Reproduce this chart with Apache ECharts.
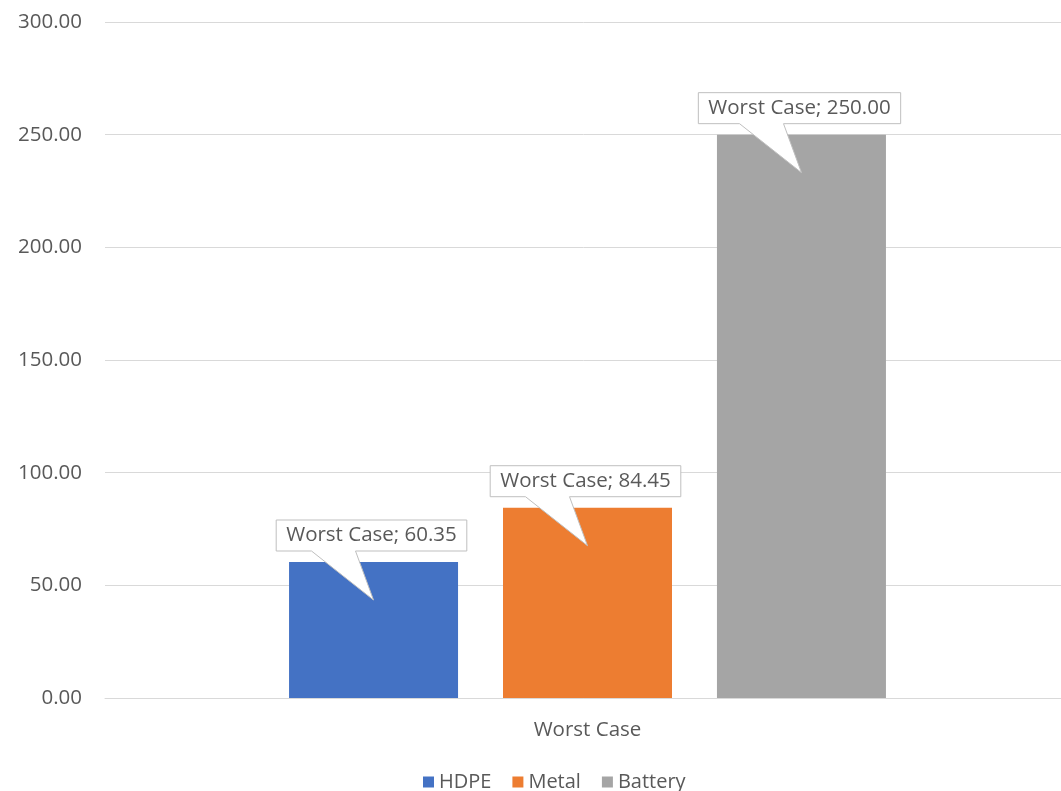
<!DOCTYPE html>
<html>
<head>
<meta charset="utf-8">
<script src="https://cdn.jsdelivr.net/npm/echarts@6/dist/echarts.min.js"></script>
<style>
  html, body { margin: 0; padding: 0; background: #ffffff; }
  #chart { width: 1061px; height: 791px; }
</style>
</head>
<body>
<div id="chart"></div>
<script>
// Chart data
const categories = ['Worst Case'];
const seriesNames = ['HDPE', 'Metal', 'Battery'];
const hdpeValues = [60.35];
const metalValues = [84.45];
const batteryValues = [250.00];
const seriesColors = ['#4472C4', '#ED7D31', '#A5A5A5'];

const FONT = '"Open Sans", "Noto Sans", sans-serif';
const FONT_SIZE = 20.5;
const TEXT_COLOR = '#595959';
const BAR_WIDTH = 169;
const BAR_GAP_PX = 45;
const valuesBySeries = [hdpeValues, metalValues, batteryValues];

const measureCtx = document.createElement('canvas').getContext('2d');
function textWidth(str, font) {
  measureCtx.font = font;
  return measureCtx.measureText(str).width;
}

const barSeries = seriesNames.map((name, i) => ({
  name: name,
  type: 'bar',
  data: valuesBySeries[i],
  barWidth: BAR_WIDTH,
  barGap: (BAR_GAP_PX / BAR_WIDTH * 100).toFixed(1) + '%',
  itemStyle: { color: seriesColors[i] },
  z: 2
}));

// Callout labels: white box with a pointer that reaches down into each bar
const calloutData = [];
valuesBySeries.forEach((vals, s) => {
  vals.forEach((v, c) => calloutData.push([c, v, s]));
});

const labelFont = FONT_SIZE + 'px ' + FONT;

const calloutSeries = {
  type: 'custom',
  name: 'callouts',
  data: calloutData,
  z: 10,
  silent: true,
  renderItem: function (params, api) {
    const cat = api.value(0);
    const val = api.value(1);
    const s = api.value(2);
    const top = api.coord([cat, val]);
    const offset = (s - (seriesNames.length - 1) / 2) * (BAR_WIDTH + BAR_GAP_PX);
    const cx = top[0] + offset;
    const barTop = top[1];
    const text = categories[cat] + '; ' + val.toFixed(2);
    const tw = textWidth(text, labelFont);
    const w = tw + 20;
    const h = 31;
    const L = cx - w / 2 - 2;
    const R = L + w;
    const B = barTop - 11;
    const T = B - h;
    const tipY = barTop + 38;
    const points = [
      [L, T], [R, T], [R, B],
      [cx - 18, B], [cx, tipY], [cx - 62, B],
      [L, B]
    ];
    return {
      type: 'group',
      children: [
        {
          type: 'polygon',
          shape: { points: points },
          style: { fill: '#ffffff', stroke: '#BFBFBF', lineWidth: 1 }
        },
        {
          type: 'text',
          style: {
            text: text,
            x: (L + R) / 2,
            y: (T + B) / 2,
            align: 'center',
            verticalAlign: 'middle',
            fill: TEXT_COLOR,
            font: labelFont
          }
        }
      ]
    };
  }
};

const chart = echarts.init(document.getElementById('chart'), null, { renderer: 'canvas' });
chart.setOption({
  animation: false,
  backgroundColor: '#ffffff',
  grid: { left: 105, top: 22, width: 965, bottom: 93, outerBoundsMode: 'none', containLabel: false },
  legend: {
    data: seriesNames,
    left: 418,
    top: 767,
    itemWidth: 11,
    itemHeight: 11,
    itemGap: 21,
    icon: 'rect',
    textStyle: { color: TEXT_COLOR, fontSize: 20, fontFamily: FONT }
  },
  xAxis: {
    type: 'category',
    data: categories,
    axisLine: { lineStyle: { color: '#D9D9D9', width: 1 } },
    axisTick: { show: false },
    axisLabel: { color: TEXT_COLOR, fontSize: FONT_SIZE, fontFamily: FONT, margin: 22 }
  },
  yAxis: {
    type: 'value',
    min: 0,
    max: 300,
    interval: 50,
    axisLine: { show: false },
    axisTick: { show: false },
    splitLine: { lineStyle: { color: '#D9D9D9', width: 1 } },
    axisLabel: {
      color: TEXT_COLOR,
      fontSize: FONT_SIZE,
      fontFamily: FONT,
      margin: 23,
      formatter: v => v.toFixed(2)
    }
  },
  series: barSeries.concat([calloutSeries])
});
</script>
</body>
</html>
